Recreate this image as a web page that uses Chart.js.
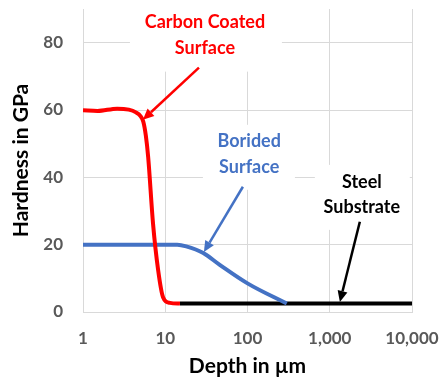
<!DOCTYPE html>
<html><head><meta charset="utf-8">
<script src="https://cdn.jsdelivr.net/npm/chart.js@4/dist/chart.umd.min.js"></script>
<style>html,body{margin:0;padding:0;background:#fff}</style>
</head><body>
<canvas id="c" width="441" height="381"></canvas>
<script>
// ---- data ----
const carbonDepth = [1, 1.5, 2.6, 3.6, 4.4, 5.0, 5.4, 5.8, 6.2, 7.1, 8.2, 9.4, 11.4, 15.1];
const carbonHardness = [59.9, 59.7, 60.4, 60.1, 59.3, 58.2, 56.6, 52.5, 46, 26.3, 12.4, 4.4, 2.7, 2.5];
const boridedDepth = [1, 10, 14, 18, 29, 46, 100, 300];
const boridedHardness = [20, 20, 20, 19.5, 17.5, 14, 8.5, 2.5];
const steelDepth = [15.1, 10000];
const steelHardness = [2.5, 2.5];
const xTickValues = [1, 10, 100, 1000, 10000];
const yTickValues = [0, 20, 40, 60, 80];
const noteTexts = [['Carbon Coated', 'Surface'], ['Borided', 'Surface'], ['Steel', 'Substrate']];
const noteColors = ['#FF0000', '#4472C4', '#000000'];

const toPts = (xs, ys) => xs.map((x, i) => ({x: x, y: ys[i]}));
const FONT = 'Lato, "Open Sans", sans-serif';

// annotation geometry in data coordinates
const notes = [
  {box: [3.72, 262, 90.4, 71.4], text: [30.4, 86, 78.5], arrow: [25.7, 72.6, 5.35, 57.1]},
  {box: [28.7, 377, 55.6, 36.3], text: [105, 50.6, 43.1], arrow: [87.9, 37.2, 29.5, 17.8]},
  {box: [659, 9400, 43.7, 24.4], text: [2455, 38.7, 31.2], arrow: [2322, 26.8, 1327, 3.0]}
];

function drawArrow(ctx, x1, y1, x2, y2, color) {
  const ang = Math.atan2(y2 - y1, x2 - x1);
  const hl = 11, hw = 5;
  const bx = x2 - hl * Math.cos(ang), by = y2 - hl * Math.sin(ang);
  ctx.save();
  ctx.strokeStyle = color; ctx.fillStyle = color; ctx.lineWidth = 2.5;
  ctx.beginPath(); ctx.moveTo(x1, y1); ctx.lineTo(bx, by); ctx.stroke();
  ctx.beginPath();
  ctx.moveTo(x2, y2);
  ctx.lineTo(bx + hw * Math.sin(ang), by - hw * Math.cos(ang));
  ctx.lineTo(bx - hw * Math.sin(ang), by + hw * Math.cos(ang));
  ctx.closePath(); ctx.fill();
  ctx.restore();
}

const notesPlugin = {
  id: 'notes',
  beforeDatasetsDraw(chart) {
    const {ctx, scales: {x, y}} = chart;
    ctx.save();
    ctx.fillStyle = '#ffffff';
    notes.forEach(n => {
      const x1 = x.getPixelForValue(n.box[0]), x2 = x.getPixelForValue(n.box[1]);
      const y1 = y.getPixelForValue(n.box[2]), y2 = y.getPixelForValue(n.box[3]);
      ctx.fillRect(x1, y1, x2 - x1, y2 - y1);
    });
    ctx.restore();
  },
  afterDatasetsDraw(chart) {
    const {ctx, scales: {x, y}} = chart;
    notes.forEach((n, i) => {
      const a = n.arrow;
      drawArrow(ctx, x.getPixelForValue(a[0]), y.getPixelForValue(a[1]),
        x.getPixelForValue(a[2]), y.getPixelForValue(a[3]), noteColors[i]);
      ctx.save();
      ctx.fillStyle = noteColors[i];
      ctx.font = 'bold 18px ' + FONT;
      ctx.textAlign = 'center';
      ctx.textBaseline = 'middle';
      const cx = x.getPixelForValue(n.text[0]);
      noteTexts[i].forEach((t, j) => ctx.fillText(t, cx, y.getPixelForValue(n.text[1 + j])));
      ctx.restore();
    });
  }
};

const zeroPad = s => { s.paddingTop = 0; s.paddingBottom = 0; s.paddingLeft = 0; s.paddingRight = 0; };

new Chart(document.getElementById('c'), {
  type: 'line',
  data: {
    datasets: [
      {label: 'Carbon Coated Surface', data: toPts(carbonDepth, carbonHardness), borderColor: '#FF0000', borderWidth: 4, cubicInterpolationMode: 'monotone'},
      {label: 'Borided Surface', data: toPts(boridedDepth, boridedHardness), borderColor: '#4472C4', borderWidth: 4, cubicInterpolationMode: 'monotone'},
      {label: 'Steel Substrate', data: toPts(steelDepth, steelHardness), borderColor: '#000000', borderWidth: 4}
    ]
  },
  options: {
    responsive: false,
    animation: false,
    devicePixelRatio: 1,
    elements: {point: {radius: 0}, line: {borderCapStyle: 'butt'}},
    layout: {padding: {left: 0, right: 29, top: 9, bottom: 0}},
    plugins: {legend: {display: false}, tooltip: {enabled: false}},
    scales: {
      x: {
        type: 'logarithmic', min: 1, max: 10000,
        afterBuildTicks: s => { s.ticks = xTickValues.map(v => ({value: v, major: true})); },
        afterFit: s => { s.height = 69; zeroPad(s); },
        grid: {color: '#d9d9d9', lineWidth: 1, drawTicks: false},
        border: {color: '#d9d9d9', width: 1},
        ticks: {
          padding: 16, color: '#595959', font: {family: FONT, size: 17, weight: 'bold'},
          maxRotation: 0, autoSkip: false,
          callback: v => Number(v).toLocaleString('en-US')
        },
        title: {display: true, text: 'Depth in µm', color: '#000000', font: {family: FONT, size: 21, weight: 'bold'}, padding: {top: 0, bottom: 2}}
      },
      y: {
        type: 'linear', min: 0, max: 90,
        afterBuildTicks: s => { s.ticks = yTickValues.map(v => ({value: v})); },
        afterFit: s => { s.width = 83; zeroPad(s); },
        grid: {color: '#d9d9d9', lineWidth: 1, drawTicks: false},
        border: {color: '#d9d9d9', width: 1},
        ticks: {padding: 20, color: '#595959', font: {family: FONT, size: 17, weight: 'bold'}},
        title: {display: true, text: 'Hardness in GPa', color: '#000000', font: {family: FONT, size: 21, weight: 'bold'}, padding: {top: 9, bottom: 0}}
      }
    }
  },
  plugins: [notesPlugin]
});
</script>
</body></html>
